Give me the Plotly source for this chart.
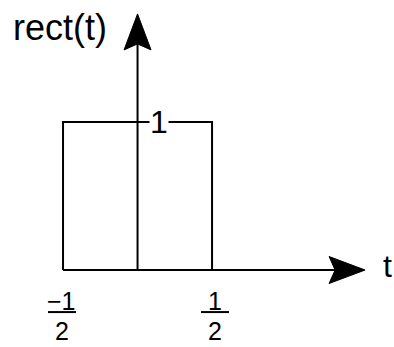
import plotly.graph_objects as go

# ---- data ----
t_vals = [-0.5, -0.5, 0.5, 0.5]
rect_vals = [0, 1, 1, 0]
tick_pos = [-0.5, 0.5]
tick_num = ["\u22121", "1"]
tick_den = ["2", "2"]
amp_label = "1"
amp_value = 1
x_axis_end = 1.527
y_axis_end = 1.73
ylabel = "rect(t)"
xlabel = "t"

W, H = 394, 347
x_range = [-0.923, 1.721]
y_range = [-0.520, 1.824]
pxx = W / (x_range[1] - x_range[0])  # pixels per x unit
pxy = H / (y_range[1] - y_range[0])  # pixels per y unit

FONT = "Liberation Sans, Arial, sans-serif"

def arrow(tipx, tipy, horizontal, L=36, hw=13.5, notch=30):
    if horizontal:
        xs = [tipx, tipx - L / pxx, tipx - notch / pxx, tipx - L / pxx, tipx]
        ys = [tipy, tipy + hw / pxy, tipy, tipy - hw / pxy, tipy]
    else:
        xs = [tipx, tipx - hw / pxx, tipx, tipx + hw / pxx, tipx]
        ys = [tipy, tipy - L / pxy, tipy - notch / pxy, tipy - L / pxy, tipy]
    return xs, ys

fig = go.Figure()

# axes lines
fig.add_trace(go.Scatter(x=[t_vals[0], x_axis_end - 30 / pxx], y=[0, 0], mode="lines",
                         line=dict(color="black", width=2), hoverinfo="skip"))
fig.add_trace(go.Scatter(x=[0, 0], y=[0, y_axis_end - 30 / pxy], mode="lines",
                         line=dict(color="black", width=2), hoverinfo="skip"))
# arrowheads
ax, ay = arrow(x_axis_end, 0, True)
fig.add_trace(go.Scatter(x=ax, y=ay, mode="lines", fill="toself", fillcolor="black",
                         line=dict(color="black", width=1), hoverinfo="skip"))
ax, ay = arrow(0, y_axis_end, False)
fig.add_trace(go.Scatter(x=ax, y=ay, mode="lines", fill="toself", fillcolor="black",
                         line=dict(color="black", width=1), hoverinfo="skip"))

# rect function
fig.add_trace(go.Scatter(x=t_vals, y=rect_vals, mode="lines",
                         line=dict(color="black", width=2), hoverinfo="skip"))

# amplitude label with white background
fig.add_annotation(x=0.144, y=amp_value, text=amp_label, showarrow=False,
                   font=dict(family=FONT, size=32, color="black"),
                   bgcolor="white", borderpad=0, xanchor="center", yanchor="middle")

# fraction tick labels
for xp, num, den in zip(tick_pos, tick_num, tick_den):
    xc = xp + (-0.007 if xp < 0 else 0.02)
    fig.add_annotation(x=xc, y=-0.21, text=num, showarrow=False,
                       font=dict(family=FONT, size=25, color="black"),
                       xanchor="center", yanchor="middle")
    fig.add_annotation(x=xc, y=-0.415, text=den, showarrow=False,
                       font=dict(family=FONT, size=25, color="black"),
                       xanchor="center", yanchor="middle")
    fig.add_shape(type="line", x0=xc - 14 / pxx, x1=xc + 14 / pxx, y0=-0.284, y1=-0.284,
                  line=dict(color="black", width=2))

# axis labels
fig.add_annotation(x=(60 - 137.5) / 149, y=1.64, text=ylabel, showarrow=False,
                   font=dict(family=FONT, size=36, color="black"),
                   xanchor="center", yanchor="middle")
fig.add_annotation(x=(381 - 137.5) / 149, y=0.03, text=xlabel, showarrow=False,
                   font=dict(family=FONT, size=32, color="black"),
                   xanchor="left", yanchor="middle")

fig.update_layout(width=W, height=H, margin=dict(l=0, r=0, t=0, b=0),
                  paper_bgcolor="white", plot_bgcolor="white", showlegend=False,
                  xaxis=dict(range=x_range, visible=False, fixedrange=True),
                  yaxis=dict(range=y_range, visible=False, fixedrange=True))

fig.write_html("out.html", config={"displayModeBar": False},
               post_script="document.body.style.margin='0';document.body.style.overflow='hidden';")
